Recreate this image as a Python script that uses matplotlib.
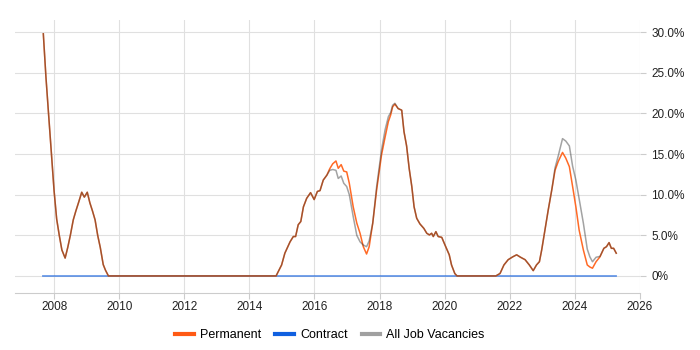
import matplotlib
matplotlib.use("Agg")
import matplotlib.pyplot as plt
from matplotlib.lines import Line2D
from matplotlib.ticker import FuncFormatter, FixedLocator

plt.rcParams['font.family'] = ['Liberation Sans', 'DejaVu Sans']

years = [2007.67, 2007.75, 2007.83, 2007.92, 2008.00, 2008.08, 2008.16, 2008.24, 2008.34, 2008.42,
         2008.50, 2008.59, 2008.67, 2008.75, 2008.85, 2008.93, 2009.02, 2009.10, 2009.18, 2009.26,
         2009.34, 2009.42, 2009.51, 2009.58, 2009.67, 2014.82, 2014.99, 2015.09, 2015.25, 2015.35,
         2015.42, 2015.50, 2015.58, 2015.66, 2015.76, 2015.88, 2015.99, 2016.09, 2016.17, 2016.27,
         2016.38, 2016.47, 2016.56, 2016.66, 2016.73, 2016.82, 2016.90, 2016.99, 2017.07, 2017.19,
         2017.30, 2017.40, 2017.50, 2017.60, 2017.68, 2017.79, 2017.91, 2018.06, 2018.17, 2018.27,
         2018.34, 2018.40, 2018.47, 2018.57, 2018.68, 2018.75, 2018.83, 2018.91, 2018.99, 2019.06,
         2019.14, 2019.24, 2019.36, 2019.45, 2019.53, 2019.60, 2019.65, 2019.73, 2019.80, 2019.91,
         2020.01, 2020.14, 2020.21, 2020.31, 2020.38, 2021.57, 2021.70, 2021.82, 2021.95, 2022.09,
         2022.21, 2022.33, 2022.47, 2022.60, 2022.72, 2022.82, 2022.91, 2022.98, 2023.08, 2023.18,
         2023.29, 2023.39, 2023.49, 2023.62, 2023.72, 2023.83, 2023.93, 2024.03, 2024.13, 2024.26,
         2024.38, 2024.46, 2024.54, 2024.65, 2024.77, 2024.89, 2024.97, 2025.05, 2025.12, 2025.19,
         2025.27]

permanent = [29.8, 24.5, 20.0, 15.0, 10.5, 7.0, 5.0, 3.2, 2.2, 3.5,
             5.0, 6.9, 8.0, 9.0, 10.3, 9.7, 10.3, 9.0, 8.0, 6.9,
             5.0, 3.5, 1.4, 0.7, 0.0, 0.0, 1.35, 2.8, 4.2, 4.85,
             4.85, 6.3, 6.7, 8.5, 9.55, 10.25, 9.4, 10.4, 10.5, 11.8,
             12.4, 13.2, 13.8, 14.15, 13.25, 13.7, 12.9, 12.8, 11.4, 8.5,
             6.5, 5.25, 3.6, 2.7, 3.6, 6.5, 10.6, 14.9, 17.1, 19.0,
             19.8, 20.8, 21.15, 20.6, 20.4, 17.75, 16.0, 13.2, 11.0, 8.5,
             7.1, 6.4, 5.85, 5.25, 5.05, 5.25, 4.85, 5.45, 4.85, 4.75,
             3.8, 2.6, 1.35, 0.3, 0.0, 0.0, 0.3, 1.35, 2.0, 2.35,
             2.6, 2.3, 2.0, 1.35, 0.65, 1.35, 1.75, 3.2, 5.65, 8.1,
             10.6, 13.0, 14.1, 15.2, 14.5, 13.45, 11.0, 8.5, 5.65, 3.2,
             1.35, 1.1, 0.95, 1.75, 2.35, 3.4, 3.6, 4.1, 3.4, 3.4,
             2.8]

all_jobs = [29.8, 24.5, 20.0, 15.0, 10.5, 7.0, 5.0, 3.2, 2.2, 3.5,
            5.0, 6.9, 8.0, 9.0, 10.3, 9.7, 10.3, 9.0, 8.0, 6.9,
            5.0, 3.5, 1.4, 0.7, 0.0, 0.0, 1.35, 2.8, 4.2, 4.85,
            4.85, 6.3, 6.7, 8.5, 9.55, 10.25, 9.4, 10.4, 10.5, 11.8,
            12.4, 13.0, 13.1, 13.0, 12.0, 12.3, 11.4, 11.0, 10.0, 7.3,
            5.0, 4.2, 3.8, 3.6, 4.3, 6.5, 11.0, 15.5, 18.0, 19.6,
            20.1, 21.0, 21.25, 20.6, 20.4, 17.75, 16.0, 13.2, 11.0, 8.5,
            7.1, 6.4, 5.85, 5.25, 5.05, 5.25, 4.85, 5.45, 4.85, 4.75,
            3.8, 2.6, 1.35, 0.3, 0.0, 0.0, 0.3, 1.35, 2.0, 2.35,
            2.6, 2.3, 2.0, 1.35, 0.65, 1.35, 1.75, 3.2, 5.65, 8.1,
            10.6, 13.3, 14.8, 16.9, 16.6, 16.0, 13.5, 11.8, 9.5, 6.5,
            3.3, 2.35, 1.75, 2.3, 2.4, 3.4, 3.6, 4.1, 3.4, 3.4,
            2.8]

contract_years = [2007.67, 2025.27]
contract = [0.0, 0.0]

x_ticks = [2008, 2010, 2012, 2014, 2016, 2018, 2020, 2022, 2024, 2026]
y_ticks = [0, 5, 10, 15, 20, 25, 30]

fig = plt.figure(figsize=(7, 3.5), dpi=100)
ax = fig.add_axes([15/700, 1-293/350, 625/700, 273/350])

ax.plot(years, permanent, color='#FF6A26', lw=1.1, zorder=3)
ax.plot(contract_years, contract, color='#2A6FE0', lw=1.3, alpha=0.7, zorder=2)
ax.plot(years, all_jobs, color='#333333', lw=1.1, alpha=0.45, zorder=4)

ax.set_xlim(2006.8, 2026)
ax.set_ylim(-2.1, 31.5)
ax.xaxis.set_major_locator(FixedLocator(x_ticks))
ax.yaxis.set_major_locator(FixedLocator(y_ticks))
ax.yaxis.set_major_formatter(FuncFormatter(lambda v, p: '0%' if v == 0 else f'{v:.1f}%'))
ax.yaxis.tick_right()
ax.grid(True, color='#e0e0e0', lw=0.8)
ax.set_axisbelow(True)
for s in ['top', 'left', 'right']:
    ax.spines[s].set_visible(False)
ax.spines['bottom'].set_color('#cccccc')
ax.tick_params(axis='y', length=4, color='#cccccc', labelsize=8.5, labelcolor='#222222', pad=4)
ax.tick_params(axis='x', length=4, color='#cccccc', labelsize=8.5, labelcolor='#222222', pad=2)

handles = [Line2D([], [], color='#FF5A14', lw=3),
           Line2D([], [], color='#1060E0', lw=3),
           Line2D([], [], color='#A0A0A0', lw=3)]
fig.legend(handles, ['Permanent', 'Contract', 'All Job Vacancies'], loc='center',
           bbox_to_anchor=(330/700, 1-335/350), ncol=3, frameon=False, fontsize=9,
           handlelength=1.5, handletextpad=0.5, columnspacing=1.1)

fig.savefig('out.png', dpi=100)
